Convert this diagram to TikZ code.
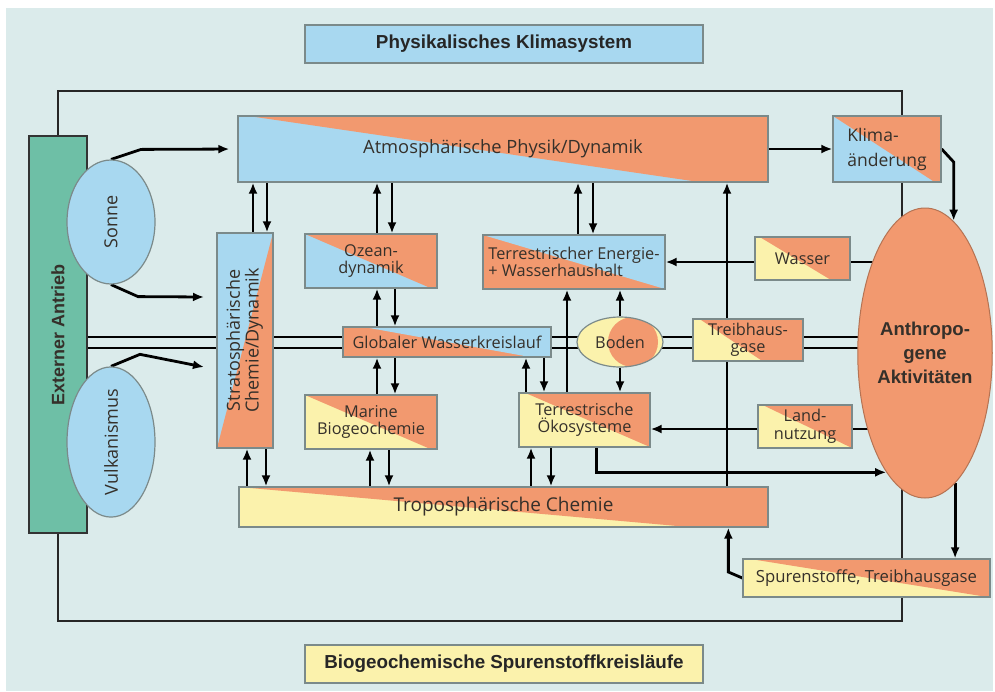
\documentclass[tikz,border=0pt]{standalone}
\usepackage{fontspec}
\setmainfont{Open Sans}
\newfontfamily\hdfont{Liberation Sans}
\usetikzlibrary{shapes.geometric,arrows.meta,calc}
\pgfdeclarelayer{back}
\pgfsetlayers{back,main}
\definecolor{bgc}{HTML}{DBEBEB}
\definecolor{cblue}{HTML}{A8D8F0}
\definecolor{corg}{HTML}{F2996F}
\definecolor{cyel}{HTML}{FBF2AC}
\definecolor{cteal}{HTML}{6EBFA6}
\definecolor{cbord}{HTML}{7B8A8A}
\definecolor{ctext}{HTML}{35302A}
\tikzset{
 box/.style={draw=cbord, line width=1.3pt, rectangle, inner sep=1pt, align=center, text=ctext, font=\fontsize{16.3}{17.5}\selectfont},
 duo/.style n args={4}{fill=#1, path picture={\fill[#2] ($(path picture bounding box.north west)!#3!(path picture bounding box.north east)$) -- (path picture bounding box.north east) -- (path picture bounding box.south east) -- ($(path picture bounding box.south west)!#4!(path picture bounding box.south east)$) -- cycle;}},
 arr/.style={line width=2.8pt, -{Latex[length=11pt,width=9pt]}},
 ln/.style={line width=2.8pt},
 dbl/.style={line width=2.2pt},
 frameline/.style={line width=2.4pt, draw=black!85},
 titlebox/.style={draw=cbord, line width=1.3pt, minimum width=398pt, minimum height=38pt, font=\hdfont\bfseries\fontsize{18.8}{20}\selectfont, text=black!85},
 oval/.style={ellipse, draw=cbord, line width=1.2pt, inner sep=0pt, text=ctext, align=center}
}
\newcommand\twoarr[4]{%
  \path (#3,0) coordinate (ux) (#4,0) coordinate (dx);
  \draw[arr] (#1.north -| ux) -- (#2.south -| ux);
  \draw[arr] (#2.south -| dx) -- (#1.north -| dx);}
\begin{document}
\begin{tikzpicture}[x=1pt,y=-1pt]
\useasboundingbox (0,0) rectangle (995,691);
\begin{pgfonlayer}{back}
 \fill[white] (0,0) rectangle (995,691);
 \fill[bgc] (6,8) rectangle (993,691);
\end{pgfonlayer}

% titles
\node[titlebox, fill=cblue] (t1) at (504,44) {Physikalisches Klimasystem};
\node[titlebox, fill=cyel] (t2) at (504,664) {Biogeochemische Spurenstoffkreisläufe};

% external forcing
\node[draw=black!80, line width=2pt, fill=cteal, minimum width=58pt, minimum height=397pt, inner sep=0pt, font=\hdfont\bfseries\fontsize{18}{20}\selectfont, text=ctext] (ext) at (58,334.5) {\rotatebox{90}{Externer Antrieb}};
\node[oval, fill=cblue, minimum width=88pt, minimum height=124pt, font=\fontsize{18}{20}\selectfont] (sonne) at (111,222) {\rotatebox{90}{Sonne}};
\node[oval, fill=cblue, minimum width=88pt, minimum height=126pt, font=\fontsize{18}{20}\selectfont] (vulk) at (111,442) {\rotatebox{90}{Vulkanismus}};

% boxes
\node[box, duo={cblue}{corg}{0.02}{0.87}, minimum width=530pt, minimum height=66pt, font=\fontsize{18.3}{20}\selectfont] (atm) at (503,149) {Atmosphärische Physik/Dynamik};
\node[box, duo={cblue}{corg}{0}{0.94}, minimum width=108pt, minimum height=66pt, align=left, font=\fontsize{17.5}{25}\selectfont] (klima) at (887,149) {Klima-\\änderung};
\node[box, duo={cblue}{corg}{1}{0}, minimum width=56pt, minimum height=215pt, inner sep=0pt] (strat) at (245,340.5) {\rotatebox{90}{\fontsize{18}{17}\selectfont\begin{tabular}{@{}c@{}}Stratosphärische\\Chemie/Dynamik\end{tabular}}};
\node[box, duo={cblue}{corg}{0}{0.95}, minimum width=132pt, minimum height=54pt] (ozean) at (371,261) {Ozean-\\dynamik};
\node[box, duo={corg}{cblue}{0}{1}, minimum width=182pt, minimum height=54pt, align=left] (tee) at (574,262) {Terrestrischer Energie-\\+ Wasserhaushalt};
\node[box, duo={cyel}{corg}{0.05}{0.8}, minimum width=95pt, minimum height=43pt] (wasser) at (802.5,258.5) {Wasser};
\node[box, duo={corg}{cblue}{0.1}{0.9}, minimum width=208pt, minimum height=30pt] (glob) at (447,342) {Globaler Wasserkreislauf};
\node[oval, fill=cyel, minimum width=86pt, minimum height=50pt, font=\fontsize{16.3}{17}\selectfont, path picture={\fill[corg] ([xshift=13pt]path picture bounding box.center) circle (25pt);}] (boden) at (620,342) {Boden};
\node[box, duo={cyel}{corg}{0.06}{0.63}, minimum width=110pt, minimum height=42pt] (treib) at (748,340) {Treibhaus-\\gase};
\node[ellipse, draw=corg!75!black, line width=1pt, fill=corg, minimum width=120pt, minimum height=290pt, inner sep=0pt, align=center, font=\hdfont\bfseries\fontsize{18.6}{24}\selectfont, text=ctext] (anth) at (925,353) {Anthropo-\\gene\\Aktivitäten};
\node[box, duo={cyel}{corg}{0}{0.95}, minimum width=132pt, minimum height=54pt] (marine) at (371,422) {Marine\\Biogeochemie};
\node[box, duo={cyel}{corg}{0.05}{1}, minimum width=131pt, minimum height=54pt] (tok) at (584.5,420) {Terrestrische\\Ökosysteme};
\node[box, duo={cyel}{corg}{0.05}{1}, minimum width=94pt, minimum height=43pt] (land) at (805,426.5) {Land-\\nutzung};
\node[box, duo={cyel}{corg}{0}{0.85}, minimum width=529pt, minimum height=40pt, font=\fontsize{19}{20}\selectfont] (tropo) at (503.5,507) {Troposphärische Chemie};
\node[box, duo={cyel}{corg}{0.03}{0.99}, minimum width=247pt, minimum height=38pt, font=\fontsize{16.7}{18}\selectfont] (spur) at (866.5,578) {Spurenstoffe, Treibhausgase};

\begin{pgfonlayer}{back}
 % frame
 \coordinate (fr1) at (902,91);
 \coordinate (fr2) at (902,621);
 \draw[frameline] (ext.north) |- (fr1) -- (fr2) -| (ext.south);
 % double lines
 \coordinate (dl1) at (0,337);
 \coordinate (dl2) at (0,348);
 \draw[dbl] (ext.east |- dl1) -- (anth.center |- dl1);
 \draw[dbl] (ext.east |- dl2) -- (anth.center |- dl2);
 % external forcing arrows
 \coordinate (sa) at (204,297);
 \coordinate (va) at (204,367);
 \draw[arr, shorten >=8pt] (sonne.north) -- ++(30,-10) -- (atm.west);
 \draw[arr] (sonne.south) -- ++(27,12) -- (sa);
 \draw[arr] (vulk.north) -- ++(29,-12) -- (va);
 % climate change
 \draw[arr] (atm.east) -- (klima.west);
 \draw[arr] (klima.east) -- ++(12,13) coordinate (k1) -- (k1 |- anth.78);
 % water
 \draw[ln] (anth.center |- tee.east) -- (wasser.east |- tee.east);
 \draw[arr] (wasser.west |- tee.east) -- (tee.east);
 % land use
 \coordinate (ly) at (0,429);
 \draw[ln] (anth.center |- ly) -- (land.east |- ly);
 \draw[arr] (land.west |- ly) -- (tok.east |- ly);
 % ecosystems -> anthropogenic
 \draw[arr] ([xshift=12pt]tok.south) |- (anth.252);
 % anthropogenic -> trace gases
 \draw[arr] (anth.283) -- (anth.283 |- spur.north);
 % trace gases -> troposphere
 \draw[arr] (spur.west) -- ++(-14,-6) coordinate (sp1) -- (sp1 |- tropo.south);
 % long vertical
 \coordinate (vx) at (727,0);
 \draw[arr] (tropo.north -| vx) -- (atm.south -| vx);
 % pairs
 \twoarr{strat}{atm}{253}{267}
 \twoarr{ozean}{atm}{377}{392}
 \twoarr{tee}{atm}{578}{593}
 \twoarr{glob}{ozean}{377}{395}
 \twoarr{marine}{glob}{377}{395}
 \twoarr{tropo}{strat}{247}{266}
 \twoarr{tropo}{marine}{370}{389}
 \twoarr{tropo}{tok}{531}{551}
 \twoarr{tok}{glob}{526}{544}
 \coordinate (tx) at (567,0);
 \draw[arr] (tok.north -| tx) -- (tee.south -| tx);
 \draw[arr] (boden.north) -- (boden.north |- tee.south);
 \draw[arr] (boden.south) -- (boden.south |- tok.north);
\end{pgfonlayer}
\end{tikzpicture}
\end{document}
